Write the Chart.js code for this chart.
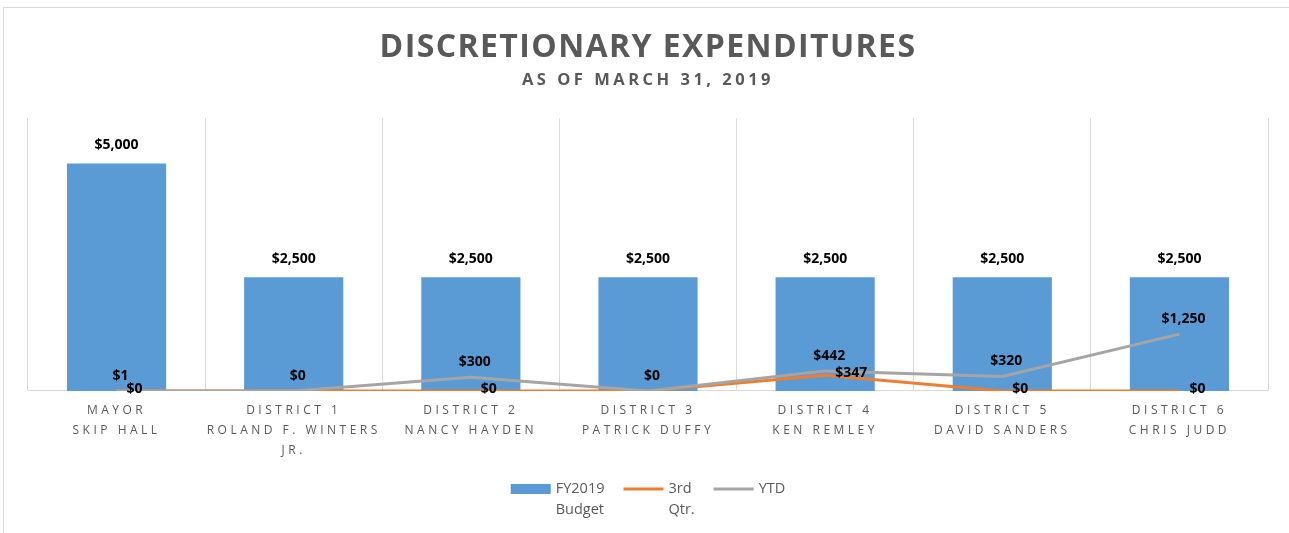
<!DOCTYPE html>
<html>
<head>
<meta charset="utf-8">
<script src="https://cdn.jsdelivr.net/npm/chart.js@4.4.1/dist/chart.umd.min.js"></script>
<style>
  html, body { margin: 0; padding: 0; background: #fff; }
  #frame { position: absolute; left: 3px; top: 7px; width: 1300px; height: 540px;
           border-left: 1px solid #d9d9d9; border-top: 1px solid #d9d9d9; }
  #myChart { position: absolute; left: 0; top: 0; }
</style>
</head>
<body>
<div id="frame"></div>
<canvas id="myChart" width="1289" height="533"></canvas>
<script>
// chart data
const categories = [
  ['MAYOR', 'SKIP HALL'],
  ['DISTRICT 1', 'ROLAND F. WINTERS', 'JR.'],
  ['DISTRICT 2', 'NANCY HAYDEN'],
  ['DISTRICT 3', 'PATRICK DUFFY'],
  ['DISTRICT 4', 'KEN REMLEY'],
  ['DISTRICT 5', 'DAVID SANDERS'],
  ['DISTRICT 6', 'CHRIS JUDD']
];
const budget = [5000, 2500, 2500, 2500, 2500, 2500, 2500];
const thirdQtr = [0, 0, 0, 0, 347, 0, 0];
const ytd = [1, 0, 300, 0, 442, 320, 1250];
const thirdQtrLabelShown = [true, false, true, false, true, true, true];
const legendLines = [['FY2019', 'Budget'], ['3rd', 'Qtr.'], ['YTD']];

const FONT = '"Open Sans", "Noto Sans", sans-serif';

function money(v) {
  return '$' + v.toLocaleString('en-US');
}

// wide letter spacing for subtitle + axis text
const spacing = {
  id: 'spacing',
  beforeDraw(chart) {
    chart.ctx.letterSpacing = '3.5px';
  }
};

// value labels (Excel style)
const valueLabels = {
  id: 'valueLabels',
  afterDatasetsDraw(chart) {
    const ctx = chart.ctx;
    ctx.save();
    ctx.letterSpacing = '0px';
    ctx.font = 'bold 14px ' + FONT;
    ctx.fillStyle = '#000';
    ctx.textBaseline = 'middle';
    chart.data.datasets.forEach((ds, di) => {
      const meta = chart.getDatasetMeta(di);
      meta.data.forEach((el, i) => {
        const txt = money(ds.data[i]);
        if (di === 0) {
          ctx.textAlign = 'center';
          ctx.fillText(txt, el.x, el.y - 18);
        } else if (di === 1) {
          if (!thirdQtrLabelShown[i]) return;
          ctx.textAlign = 'left';
          ctx.fillText(txt, el.x + 10, el.y - 2);
        } else {
          ctx.textAlign = 'center';
          ctx.fillText(txt, el.x + 4, el.y - 15);
        }
      });
    });
    ctx.restore();
  }
};

// legend with wrapped text
const legendBox = {
  id: 'legendBox',
  afterDraw(chart) {
    const ctx = chart.ctx;
    ctx.save();
    ctx.letterSpacing = '0px';
    ctx.font = '14.5px ' + FONT;
    ctx.textBaseline = 'middle';
    ctx.textAlign = 'left';
    const sym = 40, gap = 5, itemGap = 19, lh = 21;
    const widths = legendLines.map(ls => sym + gap + Math.max(...ls.map(l => ctx.measureText(l).width)));
    const total = widths.reduce((a, b) => a + b, 0) + itemGap * (widths.length - 1);
    let x = (chart.chartArea.left + chart.chartArea.right) / 2 - total / 2;
    const y = chart.height - 44;
    chart.data.datasets.forEach((ds, di) => {
      if (di === 0) {
        ctx.fillStyle = ds.backgroundColor;
        ctx.fillRect(x, y - 5, sym, 10);
      } else {
        ctx.strokeStyle = ds.borderColor;
        ctx.lineWidth = 3;
        ctx.beginPath();
        ctx.moveTo(x, y);
        ctx.lineTo(x + sym, y);
        ctx.stroke();
      }
      ctx.fillStyle = '#595959';
      legendLines[di].forEach((l, li) => ctx.fillText(l, x + sym + gap, y + li * lh));
      x += widths[di] + itemGap;
    });
    ctx.restore();
  }
};

const ctx = document.getElementById('myChart');

const chart = new Chart(ctx, {
  type: 'bar',
  data: {
    labels: categories,
    datasets: [{
      label: 'FY2019 Budget',
      data: budget,
      backgroundColor: '#5B9BD5',
      barPercentage: 1,
      categoryPercentage: 0.56,
      order: 3
    }, {
      type: 'line',
      label: '3rd Qtr.',
      data: thirdQtr,
      borderColor: '#ED7D31',
      borderWidth: 3,
      pointRadius: 0,
      order: 2
    }, {
      type: 'line',
      label: 'YTD',
      data: ytd,
      borderColor: '#A5A5A5',
      borderWidth: 3,
      pointRadius: 0,
      order: 1
    }]
  },
  options: {
    responsive: false,
    animation: false,
    layout: { padding: { left: 28, right: 21, top: 0, bottom: 62 } },
    plugins: {
      legend: { display: false },
      tooltip: { enabled: false },
      title: {
        display: true,
        text: 'DISCRETIONARY EXPENDITURES',
        color: '#595959',
        font: { family: FONT, size: 32, weight: 'bold', lineHeight: 1.2 },
        padding: { top: 29, bottom: 3.4 }
      },
      subtitle: {
        display: true,
        text: 'AS OF MARCH 31, 2019',
        color: '#595959',
        font: { family: FONT, size: 16.5, weight: 'bold', lineHeight: 1.2 },
        padding: { top: 0, bottom: 27.4 }
      }
    },
    scales: {
      x: {
        grid: { offset: true, color: '#d9d9d9', drawTicks: false },
        border: { color: '#d9d9d9' },
        ticks: {
          color: '#595959',
          font: { family: FONT, size: 12, lineHeight: 1.667 },
          padding: 10,
          maxRotation: 0,
          autoSkip: false
        }
      },
      y: {
        display: false,
        min: 0,
        max: 6000
      }
    }
  },
  plugins: [spacing, valueLabels, legendBox]
});

// main title uses tighter spacing than the rest
const titleDraw = chart.titleBlock.draw.bind(chart.titleBlock);
chart.titleBlock.draw = function (area) {
  const c = chart.ctx;
  c.save();
  c.letterSpacing = '1.4px';
  titleDraw(area);
  c.restore();
};
chart.draw();
</script>
</body>
</html>
